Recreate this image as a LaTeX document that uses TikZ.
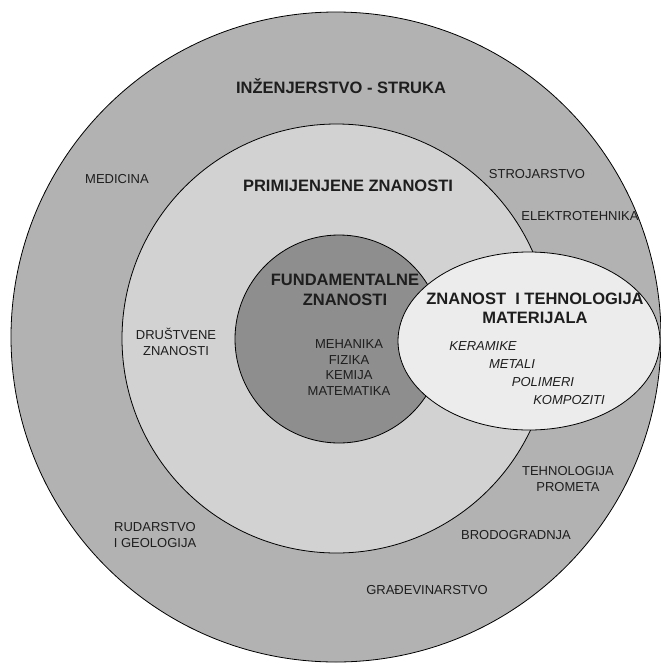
\documentclass[tikz,border=0pt]{standalone}
\usepackage{fontspec}
\setmainfont{Liberation Sans}
\definecolor{outerg}{RGB}{178,178,178}
\definecolor{midg}{RGB}{210,210,210}
\definecolor{darkg}{RGB}{142,142,142}
\definecolor{ellg}{RGB}{236,236,236}
\definecolor{txt}{RGB}{30,30,30}
\tikzset{
  ring/.style={draw=black, line width=0.8pt},
  lbl/.style={text=txt, font=\fontsize{13}{16}\selectfont, align=center, inner sep=0pt},
  ttl/.style={text=txt, font=\fontsize{16.5}{20}\selectfont\bfseries, align=center, inner sep=0pt},
  itl/.style={text=txt, font=\fontsize{13}{16}\selectfont\itshape, inner sep=0pt},
}
\begin{document}
\begin{tikzpicture}[x=1pt,y=-1pt]
\useasboundingbox (0,0) rectangle (661,665);
\fill[white] (0,0) rectangle (661,665);
\begin{scope}
\clip (0,0) rectangle (661,665);
\draw[ring, fill=outerg] (336,337) circle (325);
\draw[ring, fill=midg] (336.5,338.5) circle (214.5);
\draw[ring, fill=darkg] (339,339) circle (104);
\draw[ring, fill=ellg] (529,341) ellipse [x radius=131, y radius=89];
\end{scope}
% outer ring labels
\node[ttl] (ing) at (341,86) {INŽENJERSTVO - STRUKA};
\node[lbl] (med) at (117,179) {MEDICINA};
\node[lbl] (stro) at (537,174) {STROJARSTVO};
\node[lbl] (elek) at (580,216) {ELEKTROTEHNIKA};
\node[lbl] (teh) at (568,479) {TEHNOLOGIJA\\PROMETA};
\node[lbl] (rud) at (155,535) {RUDARSTVO\\I GEOLOGIJA};
\node[lbl] (brod) at (516,535) {BRODOGRADNJA};
\node[lbl] (grad) at (427,590) {GRAĐEVINARSTVO};
% middle
\node[ttl] (prim) at (348,186) {PRIMIJENJENE ZNANOSTI};
\node[lbl] (drus) at (176,342) {DRUŠTVENE\\ZNANOSTI};
% inner
\node[ttl] (fund) at (345,290) {FUNDAMENTALNE\\ZNANOSTI};
\node[lbl, align=center] (meh) at (349,367.5) {MEHANIKA\\[-0.3pt]FIZIKA\\[-0.3pt]KEMIJA\\[-0.3pt]MATEMATIKA};
% ellipse
\node[ttl] (mat) at (535,308.5) {ZNANOST\ \ I TEHNOLOGIJA\\[-1pt]MATERIJALA};
\node[itl] (ker) at (483,346) {KERAMIKE};
\node[itl] (met) at (512,364) {METALI};
\node[itl] (pol) at (543,382) {POLIMERI};
\node[itl] (kom) at (569,400.5) {KOMPOZITI};
\end{tikzpicture}
\end{document}
